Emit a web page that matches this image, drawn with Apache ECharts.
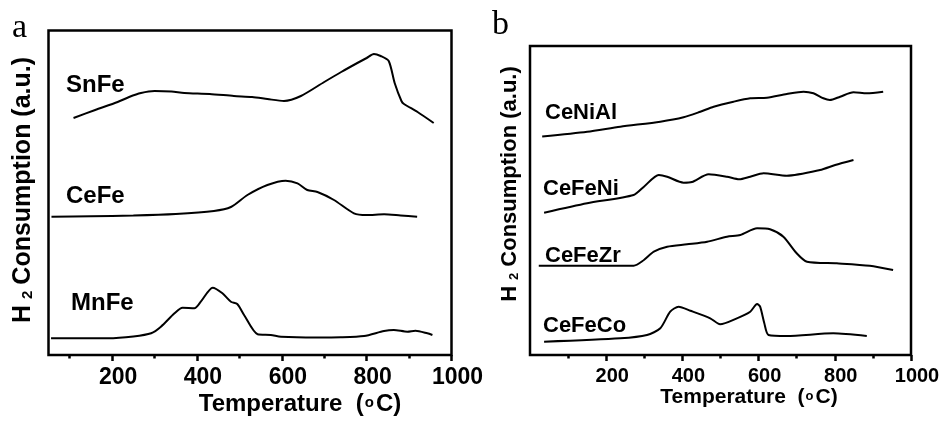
<!DOCTYPE html>
<html>
<head>
<meta charset="utf-8">
<script src="https://cdn.jsdelivr.net/npm/echarts@6/dist/echarts.min.js"></script>
<style>
  html, body { margin: 0; padding: 0; background: #fff; }
  #chart { width: 944px; height: 422px; }
</style>
</head>
<body>
<div id="chart"></div>
<script>
// Temperature axis ticks (°C)
const tempLabels = [200, 400, 600, 800, 1000];
const tempMinor = [100, 300, 500, 700, 900];

// Panel a: H2-TPR profiles (arbitrary units, stacked)
const snFeT = [109, 160, 213, 240, 268, 300, 340, 370, 430, 487, 530, 566, 605, 645, 700, 740, 778, 800, 817, 833, 852, 866, 882, 888, 920, 958];
const snFeH = [237, 245, 253, 258, 262, 264, 263.5, 262, 261, 259, 258, 256, 254, 259, 273, 283, 292, 297, 301, 299, 294, 272, 254, 251, 243, 232];

const ceFeT = [57, 150, 250, 350, 440, 480, 519, 566, 609, 637, 660, 684, 723, 770, 800, 841, 880, 919];
const ceFeH = [138.3, 138.8, 139.5, 141, 144, 148, 160, 170, 174.3, 171.7, 165, 163, 155, 141.7, 140, 140.7, 139.5, 138.3];

const mnFeT = [56, 190, 250, 292, 315, 347, 366, 394, 409, 437, 460, 480, 495, 511, 543, 574, 598, 680, 739, 794, 841, 864, 896, 915, 943, 955];
const mnFeH = [16.7, 16.7, 18.5, 21.7, 28.3, 41.7, 47.3, 46.7, 53.3, 67.3, 61.7, 53.3, 51, 40, 20.7, 20, 18.3, 17.5, 17.7, 19, 24, 25, 23.3, 24.3, 21.7, 20];

// Panel b
const ceNiAlT = [32, 150, 237, 342, 403, 447, 482, 534, 578, 622, 674, 718, 744, 770, 787, 814, 849, 884, 927];
const ceNiAlH = [218.5, 223.3, 228.3, 233.3, 237.7, 243.3, 248.3, 253.3, 256.7, 257.3, 261, 263.3, 261.7, 256.7, 255, 258.3, 262.7, 261.7, 263.3];

const ceFeNiT = [37, 150, 272, 299, 338, 360, 403, 425, 469, 517, 549, 578, 613, 674, 761, 801, 849];
const ceFeNiH = [142.3, 151.7, 160, 168.3, 180, 178.3, 172.3, 173, 180.7, 178.3, 175.7, 178.3, 181.7, 179.3, 185, 190, 195];

const ceFeZrT = [23, 272, 299, 325, 360, 412, 465, 517, 552, 596, 630, 665, 700, 727, 805, 892, 953];
const ceFeZrH = [89.3, 89.3, 95, 103.3, 108.3, 110.7, 113.3, 118.3, 120, 126.7, 125.7, 118.3, 101.7, 93.3, 91.7, 89.3, 85];

const ceFeCoT = [37, 237, 307, 342, 368, 390, 421, 473, 499, 543, 578, 596, 604, 615, 626, 674, 796, 884];
const ceFeCoH = [13.3, 16.7, 20, 26.7, 43.3, 48.3, 44.3, 36.7, 30.7, 36.7, 43.3, 51, 48.3, 31.7, 20, 19, 21.7, 19];

const SANS = '"Liberation Sans", Arial, Helvetica, sans-serif';
const SERIF = '"Liberation Serif", "Times New Roman", serif';

const zip = (t, h) => t.map((v, i) => [v, h[i]]);

function mainXAxis(gridIndex, min, fontSize) {
  return {
    gridIndex, type: 'value', min, max: 1000, position: 'bottom',
    axisLine: { show: false },
    splitLine: { show: false },
    axisTick: { show: true, customValues: tempLabels, length: 6, lineStyle: { color: '#000', width: 2.5 } },
    axisLabel: {
      customValues: tempLabels, color: '#000', fontSize, fontWeight: 'bold',
      fontFamily: SANS, margin: 11, padding: [0, 0, 0, 12],
      formatter: (v) => String(v)
    }
  };
}
function minorXAxis(gridIndex, min) {
  return {
    gridIndex, type: 'value', min, max: 1000, position: 'bottom',
    axisLine: { show: false }, splitLine: { show: false },
    axisLabel: { show: false },
    axisTick: { show: true, customValues: tempMinor, length: 3.5, lineStyle: { color: '#000', width: 2.5 } }
  };
}
function yAxisFor(gridIndex, max) {
  return {
    gridIndex, type: 'value', min: 0, max,
    axisLine: { show: false }, axisTick: { show: false },
    axisLabel: { show: false }, splitLine: { show: false }
  };
}
function curve(name, t, h, axisIdx) {
  return {
    name, type: 'line', xAxisIndex: axisIdx * 2, yAxisIndex: axisIdx,
    data: zip(t, h), showSymbol: false, smooth: 0.25,
    lineStyle: { color: '#000', width: 2 }, silent: true
  };
}
function textEl(x, y, text, fontSize, extra) {
  return {
    type: 'text', x, y, silent: true,
    style: Object.assign({ text, fill: '#000', font: 'bold ' + fontSize + 'px ' + SANS, verticalAlign: 'middle', align: 'left' }, extra || {})
  };
}
function yTitle(x, y, size) {
  return {
    type: 'text', x, y, rotation: Math.PI / 2, silent: true,
    style: {
      text: '{b|H}{s|2}{b|Consumption (a.u.)}',
      align: 'center', verticalAlign: 'middle',
      rich: {
        b: { fontSize: size, fontWeight: 'bold', fontFamily: SANS, fill: '#000', lineHeight: size + 2, verticalAlign: 'bottom' },
        s: { fontSize: Math.round(size * 0.6), fontWeight: 'bold', fontFamily: SANS, fill: '#000', lineHeight: Math.round(size * 0.6) + 2, verticalAlign: 'bottom', padding: [0, 6, 0, 6] }
      }
    }
  };
}
function xTitle(x, y, size) {
  return {
    type: 'text', x, y, silent: true,
    style: {
      text: '{b|Temperature  (}{o|o}{b|C)}',
      align: 'center', verticalAlign: 'middle',
      rich: {
        b: { fontSize: size, fontWeight: 'bold', fontFamily: SANS, fill: '#000', lineHeight: size + 2, verticalAlign: 'top' },
        o: { fontSize: Math.round(size * 0.62), fontWeight: 'bold', fontFamily: SANS, fill: '#000', lineHeight: Math.round(size * 0.62), verticalAlign: 'top', padding: [3, 2, 0, 1] }
      }
    }
  };
}

const chart = echarts.init(document.getElementById('chart'), null, { renderer: 'canvas' });
chart.setOption({
  animation: false,
  backgroundColor: '#fff',
  grid: [
    { left: 48.5, top: 30.5, width: 403, height: 324.5, show: true, borderColor: '#000', borderWidth: 2.5, backgroundColor: 'transparent' },
    { left: 530, top: 46, width: 381, height: 309, show: true, borderColor: '#000', borderWidth: 2.5, backgroundColor: 'transparent' }
  ],
  xAxis: [
    mainXAxis(0, 50, 23), minorXAxis(0, 50),
    mainXAxis(1, 0, 20), minorXAxis(1, 0)
  ],
  yAxis: [yAxisFor(0, 324.5), yAxisFor(1, 309)],
  series: [
    curve('SnFe', snFeT, snFeH, 0),
    curve('CeFe', ceFeT, ceFeH, 0),
    curve('MnFe', mnFeT, mnFeH, 0),
    curve('CeNiAl', ceNiAlT, ceNiAlH, 1),
    curve('CeFeNi', ceFeNiT, ceFeNiH, 1),
    curve('CeFeZr', ceFeZrT, ceFeZrH, 1),
    curve('CeFeCo', ceFeCoT, ceFeCoH, 1)
  ],
  graphic: [
    { type: 'text', x: 12, y: 28, silent: true, style: { text: 'a', fill: '#000', font: '34px ' + SERIF, verticalAlign: 'middle', align: 'left' } },
    { type: 'text', x: 492, y: 25, silent: true, style: { text: 'b', fill: '#000', font: '34px ' + SERIF, verticalAlign: 'middle', align: 'left' } },
    textEl(66, 85, 'SnFe', 24),
    textEl(66, 196, 'CeFe', 24),
    textEl(71, 303, 'MnFe', 24),
    textEl(545, 112.5, 'CeNiAl', 22),
    textEl(543, 189, 'CeFeNi', 22),
    textEl(545, 256, 'CeFeZr', 22),
    textEl(543, 326, 'CeFeCo', 22),
    yTitle(22, 190, 25),
    yTitle(509, 184, 22),
    xTitle(300, 405, 24),
    xTitle(749, 398, 21)
  ]
});
</script>
</body>
</html>
